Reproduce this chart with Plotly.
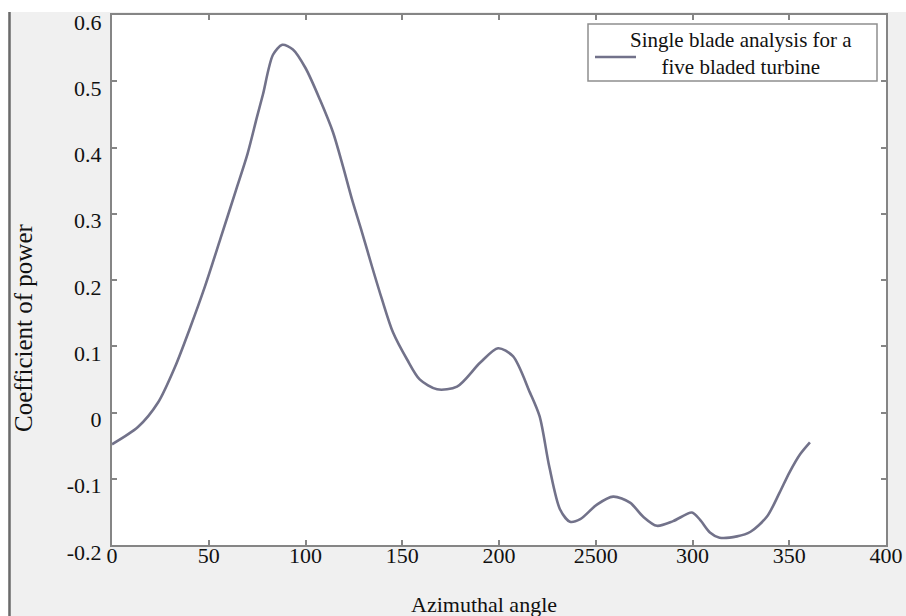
import plotly.graph_objects as go

# Data
angle = [0, 13.4, 23.8, 32.6, 40, 48, 56, 64, 70, 75, 78, 83.2, 88, 93.5, 100,
         107.5, 114.2, 119.4, 124, 129.2, 134.4, 139.5, 145.2, 152.5, 159, 168,
         178.3, 190.2, 199.5, 207.2, 216, 221, 226, 231.5, 236.7, 242, 250.6, 259,
         267.7, 274.4, 281.6, 290, 299.7, 303.9, 309, 314, 323, 330, 338.5, 345,
         350, 355.6, 360.7]
cp = [-0.048, -0.022, 0.015, 0.069, 0.125, 0.19, 0.262, 0.335, 0.39, 0.447, 0.48,
      0.54, 0.555, 0.548, 0.52, 0.472, 0.423, 0.371, 0.322, 0.272, 0.22, 0.171,
      0.121, 0.08, 0.05, 0.035, 0.039, 0.075, 0.097, 0.085, 0.03, -0.006, -0.082,
      -0.146, -0.165, -0.161, -0.139, -0.127, -0.136, -0.157, -0.171, -0.164,
      -0.151, -0.162, -0.181, -0.189, -0.187, -0.18, -0.157, -0.121, -0.091,
      -0.063, -0.045]

x_tickvals = [0, 50, 100, 150, 200, 250, 300, 350, 400]
x_ticktext = ["0", "50", "100", "150", "200", "2500", "300", "350", "400"]
y_tickvals = [-0.2, -0.1, 0, 0.1, 0.2, 0.3, 0.4, 0.5, 0.6]
y_ticktext = ["-0.2", "-0.1", "0", "0.1", "0.2", "0.3", "0.4", "0.5", "0.6"]

series_name = "Single blade analysis for a<br>five bladed turbine"
x_title = "Azimuthal angle"
y_title = "Coefficient of power"

FONT = "Liberation Serif, Times New Roman, serif"
INK = "#111111"
LINE_COLOR = "#72728a"
W, H = 906, 616
L, R, T, B = 112, 20, 15, 71
PW, PH = W - L - R, H - T - B


def px_x(px):
    return (px - L) / PW


def px_y(py):
    return (H - B - py) / PH


fig = go.Figure()
fig.add_trace(go.Scatter(
    x=angle, y=cp, mode="lines", name=series_name, showlegend=False,
    line=dict(color=LINE_COLOR, width=2.6, shape="spline", smoothing=0.8),
))

axis_common = dict(
    showline=True, linecolor="#858585", linewidth=2, mirror="ticks",
    ticks="inside", ticklen=5, tickwidth=1.5, tickcolor="#858585",
    showgrid=False, zeroline=False, automargin=False,
    tickfont=dict(family=FONT, size=22, color=INK),
)

fig.update_layout(
    width=W, height=H,
    margin=dict(l=L, r=R, t=T, b=B, autoexpand=False),
    paper_bgcolor="#f0f0f0",
    plot_bgcolor="#ffffff",
    font=dict(family=FONT, color=INK),
    showlegend=False,
    xaxis=dict(range=[0, 400], tickvals=x_tickvals, ticktext=x_ticktext,
               ticklabelstandoff=-10, **axis_common),
    yaxis=dict(range=[-0.2, 0.6], tickvals=y_tickvals, ticktext=y_ticktext,
               ticklabelshift=7, ticklabelstandoff=4, **axis_common),
)

# Axis titles placed as in the reference
fig.add_annotation(text=y_title, xref="paper", yref="paper", x=px_x(23), y=px_y(328),
                   xanchor="center", yanchor="middle",
                   textangle=-90, showarrow=False,
                   font=dict(family=FONT, size=25, color=INK))
fig.add_annotation(text=x_title, xref="paper", yref="paper", x=px_x(484), y=px_y(604),
                   xanchor="center", yanchor="middle",
                   showarrow=False, font=dict(family=FONT, size=22, color=INK))

# Legend box drawn like the MATLAB legend (centred multi-line text)
fig.add_shape(type="rect", xref="paper", yref="paper", x0=px_x(588), x1=px_x(877),
              y0=px_y(81), y1=px_y(24), fillcolor="#ffffff",
              line=dict(color="#8f8f8f", width=1.5))
fig.add_shape(type="line", xref="paper", yref="paper", x0=px_x(595), x1=px_x(636),
              y0=px_y(57), y1=px_y(57), line=dict(color=LINE_COLOR, width=2.6))
fig.add_annotation(text=series_name, xref="paper", yref="paper", x=px_x(741), y=px_y(54),
                   xanchor="center", yanchor="middle",
                   showarrow=False, align="center",
                   font=dict(family=FONT, size=21, color=INK))

# Scan frame: white strips top and left, dark vertical rule
fig.add_shape(type="rect", xref="paper", yref="paper", x0=px_x(0), x1=px_x(W), y0=px_y(0),
              y1=px_y(12), fillcolor="#ffffff", line=dict(width=0), layer="below")
fig.add_shape(type="rect", xref="paper", yref="paper", x0=px_x(0), x1=px_x(8), y0=px_y(0),
              y1=px_y(H), fillcolor="#ffffff", line=dict(width=0), layer="below")
fig.add_shape(type="line", xref="paper", yref="paper", x0=px_x(9.5), x1=px_x(9.5), y0=px_y(12),
              y1=px_y(H), line=dict(color="#6a6a6a", width=2.5), layer="below")

fig.write_html("out.html")
